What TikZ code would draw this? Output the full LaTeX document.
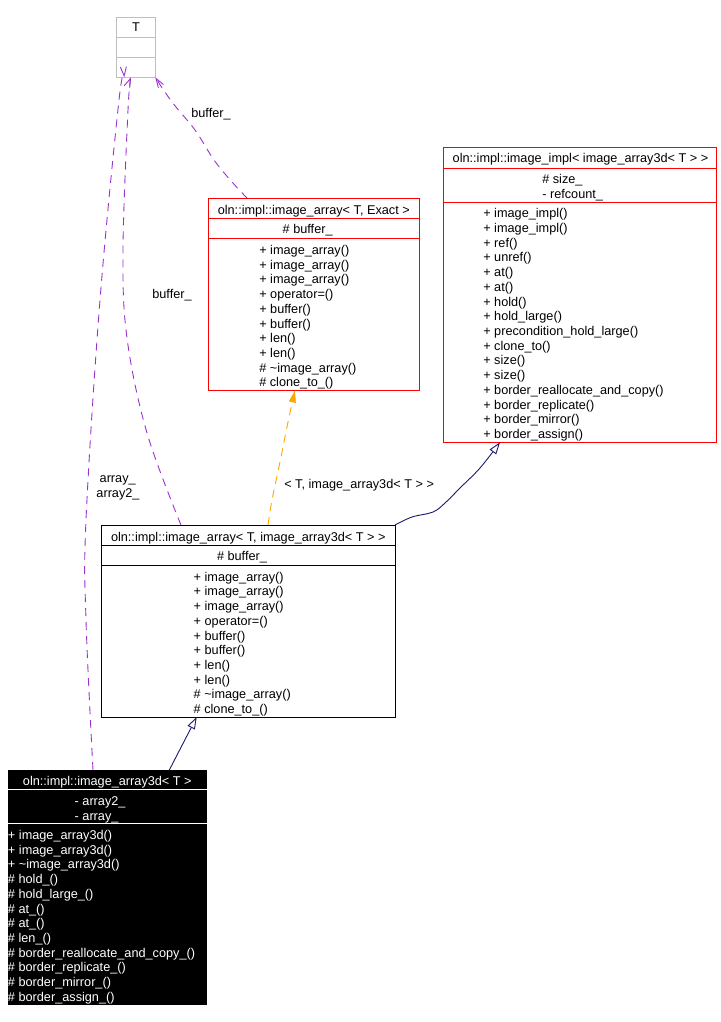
\documentclass[tikz,border=0pt]{standalone}
\usepackage{fontspec}
\setmainfont{Liberation Sans}
\usetikzlibrary{arrows.meta,calc}
\definecolor{dpurple}{HTML}{9A32CD}
\definecolor{dorange}{HTML}{FFA500}
\definecolor{dnavy}{HTML}{191970}
\definecolor{dgray}{HTML}{BFBFBF}
\begin{document}
\begin{tikzpicture}[x=1pt,y=-1pt,
  every node/.style={font=\fontsize{12.7}{14.7}\selectfont, inner sep=0pt, outer sep=0pt},
  box/.style={anchor=north west, inner sep=0pt, line width=0.9pt},
  mem/.style={anchor=base west},
  hdr/.style={anchor=base},
  usage/.style={dpurple, line width=0.9pt, dash pattern=on 8pt off 6pt, -{Straight Barb[length=9pt,width=6pt]}},
  tmpl/.style={dorange, line width=0.9pt, dash pattern=on 8pt off 6pt, -{Triangle[length=12pt,width=7pt]}},
  inh/.style={dnavy, line width=0.9pt, -{Triangle[open,length=12pt,width=8pt,fill=white]}}
]
\useasboundingbox (0,0) rectangle (720,1022);

% ---- T
\node[box, draw=dgray, minimum width=38.6pt, minimum height=60pt] (T) at (116.7,17.3) {};
\draw[dgray, line width=0.9pt] ($(T.north west)+(0,20)$) -- ($(T.north east)+(0,20)$);
\draw[dgray, line width=0.9pt] ($(T.north west)+(0,40)$) -- ($(T.north east)+(0,40)$);
\node[hdr] (Th) at (136,32) {T};

% ---- image_array< T, Exact >
\node[box, draw=red, minimum width=211pt, minimum height=192.2pt] (ia) at (208.3,198.3) {};
\draw[red, line width=0.9pt] ($(ia.north west)+(0,20)$) -- ($(ia.north east)+(0,20)$);
\draw[red, line width=0.9pt] ($(ia.north west)+(0,40)$) -- ($(ia.north east)+(0,40)$);
\node[hdr] (iah) at (313.8,214.5) {oln::impl::image\_array< T, Exact >};
\node[mem] (iaa) at (282.7,233.8) {\# buffer\_};
\foreach \t [count=\i from 0] in {+ image\_array(),+ image\_array(),+ image\_array(),+ operator=(),+ buffer(),+ buffer(),+ len(),+ len(),\# \textasciitilde{}image\_array(),\# clone\_to\_()}
  \node[mem] (iam\i) at (259.3,{254.5+14.7*\i}) {\t};

% ---- image_impl
\node[box, draw=red, minimum width=273.4pt, minimum height=295pt] (ii) at (443.3,147.3) {};
\draw[red, line width=0.9pt] ($(ii.north west)+(0,21)$) -- ($(ii.north east)+(0,21)$);
\draw[red, line width=0.9pt] ($(ii.north west)+(0,55)$) -- ($(ii.north east)+(0,55)$);
\node[hdr] (iih) at (580.5,162.8) {oln::impl::image\_impl< image\_array3d< T > >};
\node[mem] (iia0) at (542.3,183.5) {\# size\_};
\node[mem] (iia1) at (542.3,198.2) {- refcount\_};
\foreach \t [count=\i from 0] in {+ image\_impl(),+ image\_impl(),+ ref(),+ unref(),+ at(),+ at(),+ hold(),+ hold\_large(),+ precondition\_hold\_large(),+ clone\_to(),+ size(),+ size(),+ border\_reallocate\_and\_copy(),+ border\_replicate(),+ border\_mirror(),+ border\_assign()}
  \node[mem] (iim\i) at (483.3,{217.8+14.71*\i}) {\t};

% ---- image_array< T, image_array3d< T > >
\node[box, draw=black, minimum width=293.3pt, minimum height=192pt] (mid) at (101.7,525) {};
\draw[black, line width=0.9pt] ($(mid.north west)+(0,20.3)$) -- ($(mid.north east)+(0,20.3)$);
\draw[black, line width=0.9pt] ($(mid.north west)+(0,40.7)$) -- ($(mid.north east)+(0,40.7)$);
\node[hdr] (midh) at (248.3,541.2) {oln::impl::image\_array< T, image\_array3d< T > >};
\node[mem] (mida) at (217,560.2) {\# buffer\_};
\foreach \t [count=\i from 0] in {+ image\_array(),+ image\_array(),+ image\_array(),+ operator=(),+ buffer(),+ buffer(),+ len(),+ len(),\# \textasciitilde{}image\_array(),\# clone\_to\_()}
  \node[mem] (midm\i) at (193.7,{581.2+14.7*\i}) {\t};

% ---- image_array3d< T >
\node[box, draw=black, fill=black, minimum width=198.7pt, minimum height=234.3pt] (bot) at (8,770) {};
\draw[white, line width=0.9pt] ($(bot.north west)+(0,19.7)$) -- ($(bot.north east)+(0,19.7)$);
\draw[white, line width=0.9pt] ($(bot.north west)+(0,53.7)$) -- ($(bot.north east)+(0,53.7)$);
\node[hdr, text=white] (both) at (107.3,785.2) {oln::impl::image\_array3d< T >};
\node[mem, text=white] (bota0) at (74.7,805.5) {- array2\_};
\node[mem, text=white] (bota1) at (74.7,820.2) {- array\_};
\foreach \t [count=\i from 0] in {+ image\_array3d(),+ image\_array3d(),+ \textasciitilde{}image\_array3d(),\# hold\_(),\# hold\_large\_(),\# at\_(),\# at\_(),\# len\_(),\# border\_reallocate\_and\_copy\_(),\# border\_replicate\_(),\# border\_mirror\_(),\# border\_assign\_()}
  \node[mem, text=white] (botm\i) at (8,{839.5+14.7*\i}) {\t};

% ---- connector end points
\coordinate (s1) at ($(ia.north west)+(39,0)$);
\coordinate (s2) at ($(mid.north west)+(79.3,0)$);
\coordinate (t2) at ($(T.south west)+(14.3,0)$);
\coordinate (s3) at ($(bot.north west)+(85,0)$);
\coordinate (t3) at ($(T.south west)+(7.6,0)$);
\coordinate (s4) at ($(mid.north west)+(166.3,0)$);
\coordinate (t4) at ($(ia.south west)+(86.7,0)$);
\coordinate (t5) at ($(ii.south west)+(56.7,0)$);
\coordinate (s6) at ($(bot.north west)+(161.3,0)$);
\coordinate (t6) at ($(mid.south west)+(95,0)$);

% ---- connectors
\draw[usage] plot[smooth, tension=0.6] coordinates {(s1) (232,182) (214,160) (195,130) (172,102) (T.south east)};
\draw[usage] plot[smooth, tension=0.6] coordinates {(s2) (147,433) (127,338) (123,250) (128,110) (t2)};
\draw[usage] plot[smooth, tension=0.6] coordinates {(s3) (86,620) (86,520) (100,300) (119,100) (t3)};
\draw[tmpl] plot[smooth, tension=0.6] coordinates {(s4) (272,500) (280,462) (288,422) (t4)};
\draw[inh] plot[smooth, tension=0.6] coordinates {(mid.north east) (412,517) (433,512) (445,503) (460,488) (480,468) (t5)};
\draw[inh] (s6) -- (t6);

% ---- connector labels
\node[hdr] (l1) at (211,117.2) {buffer\_};
\node[hdr] (l2) at (172,298.5) {buffer\_};
\node[hdr] (l3a) at (117.7,482.5) {array\_};
\node[hdr] (l3b) at (118,497.5) {array2\_};
\node[mem] (l4) at (284.3,488.8) {< T, image\_array3d< T > >};
\end{tikzpicture}
\end{document}
